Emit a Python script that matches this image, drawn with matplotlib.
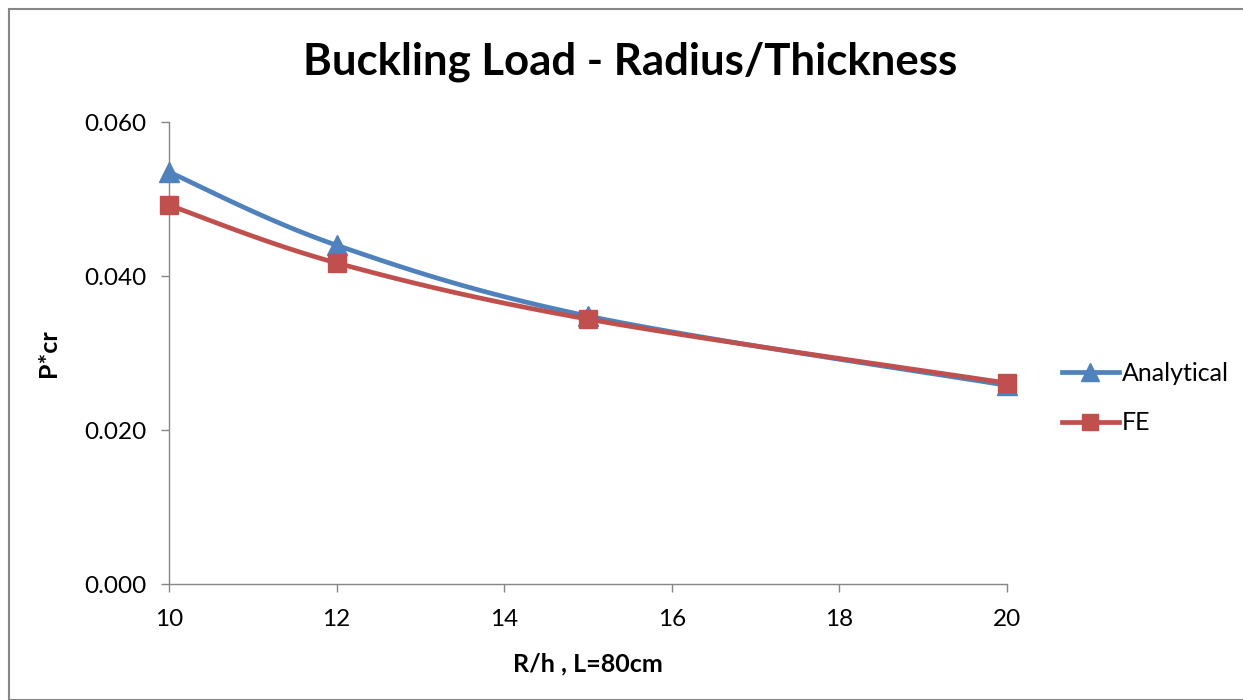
import matplotlib
matplotlib.use("Agg")
import matplotlib.pyplot as plt
import numpy as np
from matplotlib.patches import Rectangle

plt.rcParams["font.family"] = ["Lato", "DejaVu Sans"]

# ratio R/h at L = 80 cm
r_h = [10, 12, 15, 20]
analytical = [0.0535, 0.0440, 0.0348, 0.0258]
fe = [0.0492, 0.0417, 0.0344, 0.0261]

x_ticks = [10, 12, 14, 16, 18, 20]
y_ticks = [0.000, 0.020, 0.040, 0.060]


def smooth(xs, ys, n=40):
    # Catmull-Rom curve through the points, like a spreadsheet "smoothed line"
    pts = np.column_stack([xs, ys]).astype(float)
    p = np.vstack([pts[0], pts, pts[-1]])
    out = []
    t = np.linspace(0, 1, n)[:, None]
    for i in range(1, len(p) - 2):
        p0, p1, p2, p3 = p[i - 1], p[i], p[i + 1], p[i + 2]
        seg = 0.5 * ((2 * p1) + (-p0 + p2) * t
                     + (2 * p0 - 5 * p1 + 4 * p2 - p3) * t ** 2
                     + (-p0 + 3 * p1 - 3 * p2 + p3) * t ** 3)
        out.append(seg if i == 1 else seg[1:])
    out = np.vstack(out)
    return out[:, 0], out[:, 1]


fig = plt.figure(figsize=(12.43, 7.0), dpi=100)
ax = fig.add_axes([0.136, 0.1657, 0.674, 0.66])

blue = "#4F81BD"
red = "#C0504D"

for ys, col, mk, ms in [(analytical, blue, "^", 14),
                        (fe, red, "s", 13)]:
    sx, sy = smooth(r_h, ys)
    ax.plot(sx, sy, color=col, lw=3.4, solid_capstyle="round", zorder=3,
            clip_on=False)
    ax.plot(r_h, ys, linestyle="none", marker=mk, markersize=ms,
            color=col, zorder=4, clip_on=False)

ax.set_xlim(10, 20)
ax.set_ylim(0, 0.060)
ax.set_xticks(x_ticks)
ax.set_yticks(y_ticks)
ax.set_yticklabels([f"{v:.3f}" for v in y_ticks])

for side in ["top", "right"]:
    ax.spines[side].set_visible(False)
for side in ["left", "bottom"]:
    ax.spines[side].set_color("#868686")
    ax.spines[side].set_linewidth(1.0)
ax.tick_params(axis="both", colors="#868686", labelcolor="black",
               labelsize=17.5, length=6, width=1.0)
ax.tick_params(axis="x", pad=12)
ax.tick_params(axis="y", pad=10)

fig.text(630 / 1243, 1 - 62 / 700, "Buckling Load - Radius/Thickness",
         fontsize=31.5, fontweight="bold", ha="center", va="center")
ax.set_xlabel("R/h , L=80cm", fontsize=18, fontweight="bold", labelpad=16)
ax.set_ylabel("P*cr", fontsize=18, fontweight="bold", labelpad=18)

# legend handles: line with marker
h1, = ax.plot([], [], color=blue, lw=3.4, marker="^", markersize=13)
h2, = ax.plot([], [], color=red, lw=3.4, marker="s", markersize=12)
fig.legend([h1, h2], ["Analytical", "FE"], loc="center left",
           bbox_to_anchor=(0.836, 0.431), frameon=False, fontsize=18,
           handlelength=2.3, handletextpad=0.1, labelspacing=1.05)

# chart frame
fig.patches.append(Rectangle((9 / 1243, 0), 1.0, 1 - 9 / 700,
                             transform=fig.transFigure, fill=False,
                             edgecolor="#868686", linewidth=1.5))

fig.savefig("out.png", dpi=100)
